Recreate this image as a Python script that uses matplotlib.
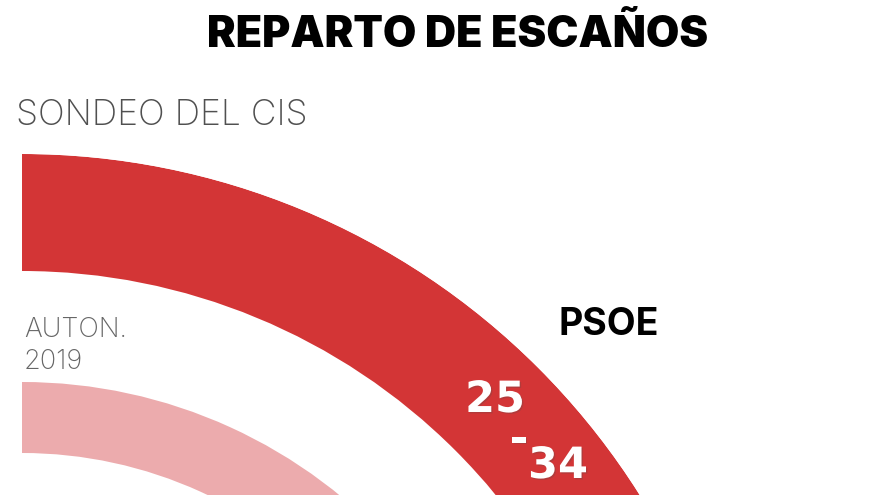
import numpy as np
import matplotlib
matplotlib.use('Agg')
from matplotlib import pyplot as plt
import matplotlib.patheffects as pe

# Datos del gráfico
partido = 'PSOE'
sondeo_cis = [25, 34]          # horquilla de escaños del sondeo
escanos_2019 = [37]            # escaños autonómicas 2019
escala_escanos = 68            # escaños que ocupan 180 grados

rojo = '#D33536'
rosa = '#ECABAD'

W, H = 880, 495
fig = plt.figure(figsize=(W / 100, H / 100), dpi=100)
fig.patch.set_facecolor('white')

# Centro del hemiciclo (en píxeles) y radio máximo
cx, cy = 22, 884
rmax = 730
ax = fig.add_axes([(cx - rmax) / W, (H - cy - rmax) / H, 2 * rmax / W, 2 * rmax / H],
                  projection='polar')
ax.set_theta_zero_location('N')
ax.set_theta_direction(-1)
ax.set_ylim(0, rmax)
ax.set_axis_off()

# Anillo exterior: sondeo del CIS
ax.bar(0, 730 - 613, width=max(sondeo_cis) / escala_escanos * np.pi,
       bottom=613, align='edge', color=rojo, linewidth=0)
# Anillo interior: autonómicas 2019
ax.bar(0, 502 - 431, width=escanos_2019[0] / escala_escanos * np.pi,
       bottom=431, align='edge', color=rosa, linewidth=0)


def px(x, y):
    return x / W, 1 - y / H


fig.text(*px(458, 47), 'REPARTO DE ESCAÑOS', family='Inter', weight='black',
         fontsize=31, ha='center', va='baseline', color='black')
fig.text(*px(16, 125), 'SONDEO DEL CIS', family='Inter', weight='light',
         fontsize=25.5, ha='left', va='baseline', color='#505050')
fig.text(*px(24, 337), 'AUTON.', family='Inter', weight='light',
         fontsize=19.5, ha='left', va='baseline', color='#666666')
fig.text(*px(24, 369), '2019', family='Inter', weight='light',
         fontsize=19.5, ha='left', va='baseline', color='#666666')
fig.text(*px(609, 335), partido, family='Inter', weight='bold',
         fontsize=27, ha='center', va='baseline', color='black')

sombra = [pe.withSimplePatchShadow(offset=(1, -1), alpha=0.25)]
num = dict(family='DejaVu Sans', weight='bold', fontsize=31, ha='center',
           va='baseline', color='white', path_effects=sombra)
fig.text(*px(495, 412), str(sondeo_cis[0]), **num)
fig.text(*px(519, 452), '-', **num)
fig.text(*px(558, 478), str(sondeo_cis[1]), **num)

fig.savefig('out.png', dpi=100, facecolor='white')
